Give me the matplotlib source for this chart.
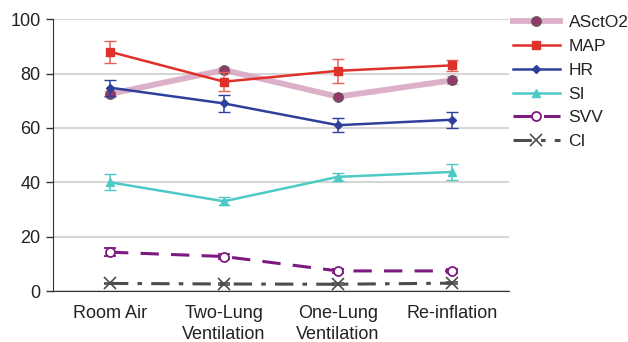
import matplotlib.pyplot as plt
from matplotlib.lines import Line2D
import numpy as np

plt.rcParams.update({"font.family": ["Liberation Sans", "DejaVu Sans"], "font.size": 12,
                     "text.color": "#222222", "xtick.labelcolor": "#222222",
                     "ytick.labelcolor": "#222222"})

phases = ["Room Air", "Two-Lung\nVentilation", "One-Lung\nVentilation", "Re-inflation"]

asct = [72.5, 81.3, 71.5, 77.5]
asct_err = [1.2, 1.2, 1.0, 1.5]
map_ = [88, 77, 81, 83]
map_err = [4, 3.5, 4.5, 2]
hr = [74.8, 69, 61, 63]
hr_err = [3, 3, 2.5, 3]
si = [40, 33, 42, 43.8]
si_err = [3, 1.5, 1.5, 3]
svv = [14.3, 12.7, 7.4, 7.4]
svv_err = [1.4, 1.0, 0.6, 0.8]
ci = [2.8, 2.6, 2.5, 2.9]
ci_err = [0.3, 0.3, 0.3, 0.3]

x = np.arange(len(phases))

fig = plt.figure(figsize=(6.28, 3.42), dpi=100)
ax = fig.add_axes([0.0844, 0.149, 0.726, 0.795])

styles = [
    ("ASctO2", asct, asct_err, dict(color="#d9a8c2", lw=4.2, alpha=0.9, marker="o", ms=7,
                                    mfc="#8c2a60", mec="#555555", mew=0.8), "#d9a8c2", 2),
    ("MAP", map_, map_err, dict(color="#e0302a", lw=1.8, marker="s", ms=6), "#e8605a", 3),
    ("HR", hr, hr_err, dict(color="#2f3f9c", lw=1.8, marker="D", ms=4.5), "#2f3f9c", 3),
    ("SI", si, si_err, dict(color="#4ecac6", lw=1.8, marker="^", ms=6), "#4ecac6", 3),
    ("SVV", svv, svv_err, dict(color="#7d1a80", lw=2.2, ls=(0, (6, 4)), marker="o", ms=6.5,
                               mfc="white", mec="#7d1a80", mew=1.3), "#7d1a80", 3),
    ("CI", ci, ci_err, dict(color="#4d4d4d", lw=2.2, ls=(0, (6, 3, 1.5, 3)), marker="x", ms=8,
                            mew=1.2), "#4d4d4d", 3),
]

handles = []
for name, vals, err, kw, ecol, z in styles:
    ax.errorbar(x, vals, yerr=err, ecolor=ecol, elinewidth=1.1, capsize=4, zorder=z, **kw)
    handles.append(Line2D([], [], label=name, **kw))

ax.set_ylim(0, 100)
ax.set_xlim(-0.5, 3.5)
ax.set_yticks(range(0, 101, 20))
ax.set_xticks(x)
ax.set_xticklabels(phases, fontsize=13, linespacing=1.35)
ax.tick_params(axis="x", length=0, pad=10)
ax.tick_params(axis="y", length=5, width=1, color="#333333", pad=4, labelsize=13)
ax.yaxis.grid(True, color="#d6d6d6", lw=1.5)
ax.set_axisbelow(True)
for s in ["top", "right"]:
    ax.spines[s].set_visible(False)
ax.spines["left"].set_color("#333333")
ax.spines["bottom"].set_color("#333333")
ax.spines["bottom"].set_bounds(-0.52, 3.5)

fig.legend(handles=handles, loc="upper left", bbox_to_anchor=(513 / 628, 1 - 15 / 342),
           frameon=False, borderpad=0, borderaxespad=0, handlelength=2.7,
           labelspacing=0.5, handletextpad=0.5, fontsize=12.5)

plt.savefig("out.png", dpi=100)
